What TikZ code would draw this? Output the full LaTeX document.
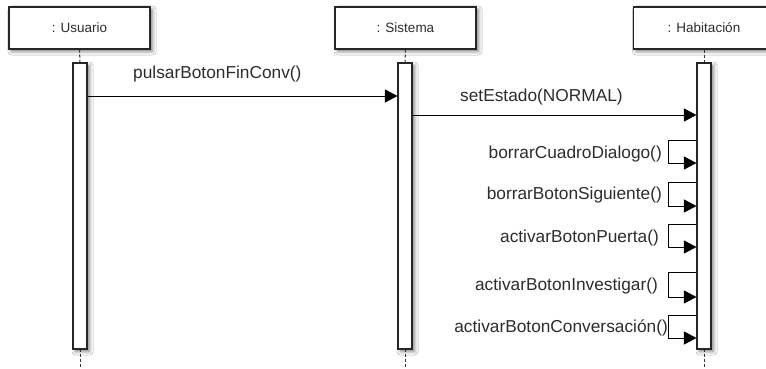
\documentclass[tikz,border=0pt]{standalone}
\usepackage{fontspec}
\setmainfont{Liberation Sans}
\usetikzlibrary{arrows.meta,shadows.blur}
\definecolor{ink}{RGB}{45,45,45}
\tikzset{
  softshadow/.style={blur shadow={shadow xshift=2.5pt,shadow yshift=-2.5pt,shadow blur radius=3.5pt,shadow opacity=50}},
  objbox/.style={draw=black!85,line width=1.1pt,fill=white,softshadow,
    minimum width=141pt,minimum height=42pt,inner sep=0pt,
    font=\fontsize{13.5}{16}\selectfont,text=ink},
  actbar/.style={draw=black!85,line width=1.1pt,fill=white,softshadow,
    minimum width=14pt,minimum height=286pt,inner sep=0pt},
  lifeline/.style={draw=black!80,line width=1pt,dash pattern=on 3pt off 2pt},
  msg/.style={draw=black,line width=0.9pt,-{Triangle[length=12.5pt,width=13pt]}},
  msglabel/.style={font=\fontsize{17.3}{19}\selectfont,text=ink,inner sep=0pt},
}
\begin{document}
\begin{tikzpicture}[x=1pt,y=-1pt]
\clip (0,0) rectangle (766,369);
\fill[white] (0,0) rectangle (766,369);

% object heads
\node[objbox] (usr) at (79.5,28) {: Usuario};
\node[objbox] (sis) at (405.5,28) {: Sistema};
\node[objbox] (hab) at (704,28) {: Habitación};

% lifeline ends
\coordinate (usrEnd) at (80,369);
\coordinate (sisEnd) at (405,369);
\coordinate (habEnd) at (704,369);

% dashed lifelines
\draw[lifeline] (usr.south) -- (80,63);
\draw[lifeline] (sis.south) -- (405,63);
\draw[lifeline] (hab.south) -- (704,63);
\draw[lifeline] (80,349) -- (usrEnd);
\draw[lifeline] (405,349) -- (sisEnd);
\draw[lifeline] (704,349) -- (habEnd);

% activation bars
\node[actbar] (usrA) at (80,206) {};
\node[actbar] (sisA) at (405,206) {};
\node[actbar] (habA) at (704,206) {};

% message rows
\coordinate (m1) at (0,96);
\coordinate (m2) at (0,115);

\draw[msg] (usrA.east |- m1) -- (sisA.west |- m1);
\node[msglabel,anchor=base west] (l1) at (133,78) {pulsarBotonFinConv()};

\draw[msg] (sisA.east |- m2) -- (habA.west |- m2);
\node[msglabel,anchor=base west] (l2) at (460,101) {setEstado(NORMAL)};

% self calls on Habitacion
\foreach \ytop/\ybot/\ybase/\xr/\txt in {
  140/163/158/662/borrarCuadroDialogo(),
  182/206/199/662/borrarBotonSiguiente(),
  224/247/242/659/activarBotonPuerta(),
  272/297/290/658/activarBotonInvestigar(),
  315/338/332/668/activarBotonConversación()}{
  \coordinate (st) at (0,\ytop);
  \coordinate (sb) at (0,\ybot);
  \draw[msg] (habA.west |- st) -- ++(-28,0) |- (habA.west |- sb);
  \node[msglabel,anchor=base east] at (\xr,\ybase) {\txt};
}
\end{tikzpicture}
\end{document}
